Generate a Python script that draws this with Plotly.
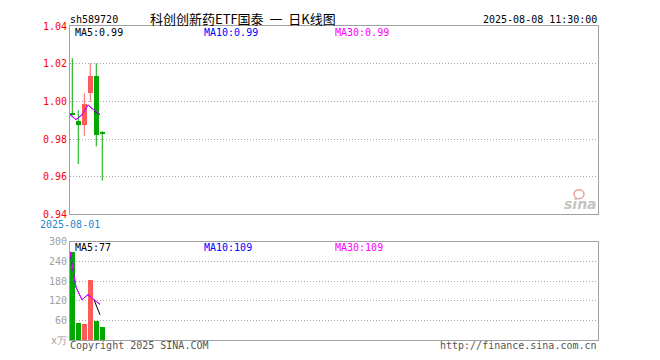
import plotly.graph_objects as go

# ---------------- data ----------------
dates = ["2025-08-01", "2025-08-04", "2025-08-05", "2025-08-06", "2025-08-07", "2025-08-08"]
opens = [0.9935, 0.9896, 0.9876, 1.0042, 1.0136, 0.9833]
closes = [0.9930, 0.9876, 0.9985, 1.0136, 0.9824, 0.9830]
highs = [1.0228, 0.9952, 1.0042, 1.0202, 1.0202, 0.9841]
lows = [0.9925, 0.9667, 0.9817, 0.9997, 0.9761, 0.9580]
volumes = [270, 52, 48, 185, 60, 40]          # 万
ma5_price = [None, None, None, None, 0.9949, 0.9930]
ma10_price = [0.9930, 0.9903, 0.9928, 0.9981, 0.9954, 0.9930]
ma30_price = [0.9930, 0.9903, 0.9928, 0.9981, 0.9954, 0.9930]
ma5_vol = [None, None, None, None, 123, 77]
ma10_vol = [270, 161, 123, 139, 123, 109]
ma30_vol = [270, 161, 123, 139, 123, 109]
price_ticks = [0.94, 0.96, 0.98, 1.00, 1.02, 1.04]
price_tick_text = ["0.94", "0.96", "0.98", "1.00", "1.02", "1.04"]
vol_ticks = [0, 60, 120, 180, 240, 300]
vol_tick_text = ["x万", "60", "120", "180", "240", "300"]

RED = "#ff5a5a"
GREEN = "#00a800"
MONO = "DejaVu Sans Mono"
CJK = "Noto Sans CJK SC"

idx = list(range(len(dates)))
ma_x = [i - 0.38 for i in idx]
up = [c > o for o, c in zip(opens, closes)]
colors = [RED if u else GREEN for u in up]


def px(xp):
    return (xp - 70) / 528


def py(yp):
    return (340 - yp) / 320


fig = go.Figure()

# wicks
for col, flag in ((GREEN, False), (RED, True)):
    xs, ys = [], []
    for i in idx:
        if up[i] == flag:
            xs += [i, i, None]
            ys += [lows[i], highs[i], None]
    fig.add_trace(go.Scatter(x=xs, y=ys, mode="lines", line=dict(color=col, width=1),
                             xaxis="x", yaxis="y", hoverinfo="skip", showlegend=False))

# bodies
fig.add_trace(go.Bar(
    x=idx,
    base=[min(o, c) for o, c in zip(opens, closes)],
    y=[max(abs(c - o), 0.0005) for o, c in zip(opens, closes)],
    width=0.8, marker=dict(color=colors, line=dict(width=0)),
    xaxis="x", yaxis="y", showlegend=False))

# price MAs
for vals, col in ((ma5_price, "#000000"), (ma10_price, "#0000ff"), (ma30_price, "#ff00ff")):
    fig.add_trace(go.Scatter(x=ma_x, y=vals, mode="lines", line=dict(color=col, width=1),
                             xaxis="x", yaxis="y", showlegend=False, connectgaps=False))

# volume bars
fig.add_trace(go.Bar(x=idx, y=volumes, width=0.8, marker=dict(color=colors, line=dict(width=0)),
                     xaxis="x2", yaxis="y2", showlegend=False))

for vals, col in ((ma5_vol, "#000000"), (ma10_vol, "#0000ff"), (ma30_vol, "#ff00ff")):
    fig.add_trace(go.Scatter(x=ma_x, y=vals, mode="lines", line=dict(color=col, width=1),
                             xaxis="x2", yaxis="y2", showlegend=False))

xr = [-0.38, 87.62]
axis_common = dict(showline=True, mirror=True, linecolor="#a0a0a0", linewidth=1,
                   zeroline=False, ticks="")
GRID = dict(showgrid=True, gridcolor="#a8a8a8", griddash="1px,2px", gridwidth=1)

# the page body has an 8px margin; margins compensate so the plot area sits at 70..598 x 20..340
fig.update_layout(
    width=660, height=360,
    margin=dict(l=62, r=70, t=12, b=28),
    paper_bgcolor="white", plot_bgcolor="white",
    barmode="overlay", bargap=0,
    showlegend=False,
    xaxis=dict(domain=[0, 1], range=xr, anchor="y", showgrid=False, showticklabels=False,
               **axis_common),
    xaxis2=dict(domain=[0, 1], range=xr, anchor="y2", showgrid=False, showticklabels=False,
                matches="x", **axis_common),
    yaxis=dict(domain=[0.4, 1], range=[0.94, 1.04], anchor="x",
               tickvals=price_ticks, ticktext=price_tick_text,
               tickfont=dict(family=MONO, size=10, color="#ff0000"),
               **GRID, **axis_common),
    yaxis2=dict(domain=[0, 0.3125], range=[0, 300], anchor="x2",
                tickvals=vol_ticks, ticktext=vol_tick_text,
                tickfont=dict(family=MONO, size=10, color="#a0a0a0"),
                **GRID, **axis_common),
)

ann = []


def add_text(text, xp, yp, color="#000000", size=10, family=MONO, xanchor="left", **kw):
    ann.append(dict(text=text, x=px(xp), y=py(yp), xref="paper", yref="paper",
                    xanchor=xanchor, yanchor="middle", showarrow=False, borderpad=0,
                    font=dict(family=family, size=size, color=color), **kw))


add_text("sh589720", 69, 13)
add_text("科创创新药ETF国泰\u00a0\u00a0一\u00a0\u00a0日K线图", 149, 12, size=13, family=CJK)
add_text("2025-08-08 11:30:00", 598, 13, xanchor="right")
add_text("MA5:0.99", 74, 27)
add_text("MA10:0.99", 203, 27, color="#0000ff")
add_text("MA30:0.99", 334, 27, color="#ff00ff")
add_text("2025-08-01", 39, 222, color="#1e88d0")
add_text("MA5:77", 74, 246)
add_text("MA10:109", 203, 246, color="#0000ff")
add_text("MA30:109", 334, 246, color="#ff00ff")
add_text("Copyright 2025 SINA.COM", 69, 346, color="#555555")
add_text("http://finance.sina.com.cn", 598, 346, color="#555555", xanchor="right")
add_text("<b><i>sina</i></b>", 598, 201, color="#c4c4c4", size=14, family="DejaVu Sans",
         xanchor="right")
fig.update_layout(annotations=ann)

fig.add_shape(type="circle", xref="paper", yref="paper",
              x0=px(574), x1=px(584), y0=py(196), y1=py(187),
              line=dict(color="#f0a0a0", width=1.5), fillcolor="rgba(255,255,255,0)")

fig.write_html("out.html", config={"displayModeBar": False})
